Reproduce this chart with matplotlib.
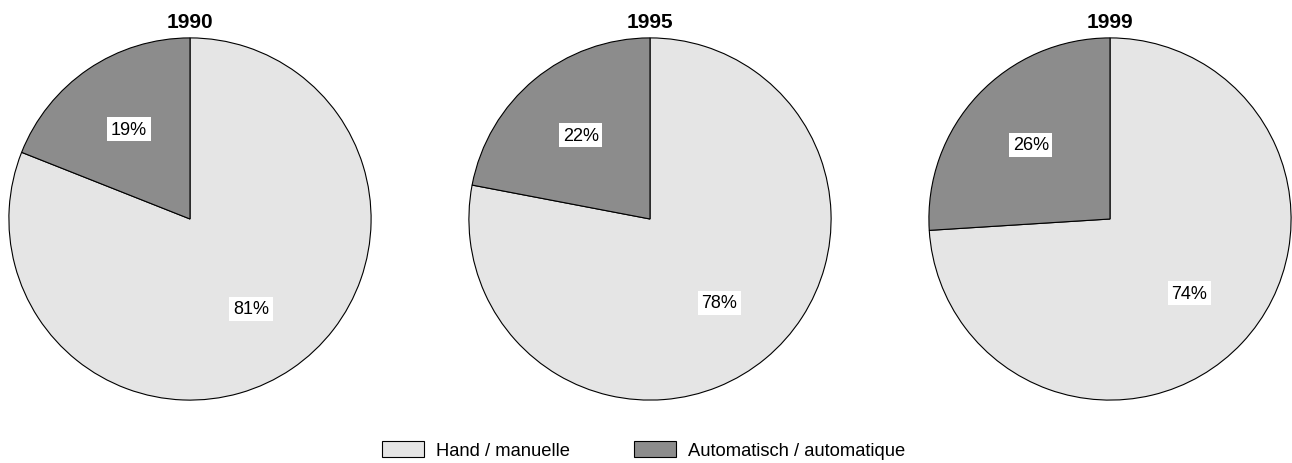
import matplotlib.pyplot as plt
from matplotlib.patches import Patch

plt.rcParams['font.family'] = ['Liberation Sans', 'DejaVu Sans']

years = ['1990', '1995', '1999']
hand = [81, 78, 74]
auto = [19, 22, 26]
labels = ['Hand / manuelle', 'Automatisch / automatique']
colors = ['#e5e5e5', '#8c8c8c']

W, H = 1292, 464
fig = plt.figure(figsize=(W / 100, H / 100), dpi=100)

centers = [190, 650, 1110]
cy, r = 220, 182

for cx, year, h, a in zip(centers, years, hand, auto):
    ax = fig.add_axes([(cx - r) / W, (H - cy - r) / H, 2 * r / W, 2 * r / H])
    wedges, texts, autotexts = ax.pie(
        [h, a], colors=colors, startangle=90, counterclock=False,
        autopct='%d%%', pctdistance=0.6,
        wedgeprops=dict(edgecolor='black', linewidth=0.8))
    for t in autotexts:
        t.set_fontsize(13)
        t.set_bbox(dict(facecolor='white', edgecolor='none',
                        boxstyle='square,pad=0.2'))
    ax.set_xlim(-1.005, 1.005)
    ax.set_ylim(-1.005, 1.005)
    ax.set_aspect('equal')
    fig.text(cx / W, 1 - 28 / H, year, ha='center', va='baseline',
             fontsize=15, fontweight='bold')

handles = [Patch(facecolor=c, edgecolor='black', linewidth=0.8) for c in colors]
fig.legend(handles, labels, loc='center', bbox_to_anchor=(0.498, 13 / H),
           ncol=2, frameon=False, fontsize=13.2, handlelength=2.3,
           handleheight=1.0, handletextpad=0.65, columnspacing=3.5,
           borderpad=0, borderaxespad=0)

fig.savefig('out.png', dpi=100)
